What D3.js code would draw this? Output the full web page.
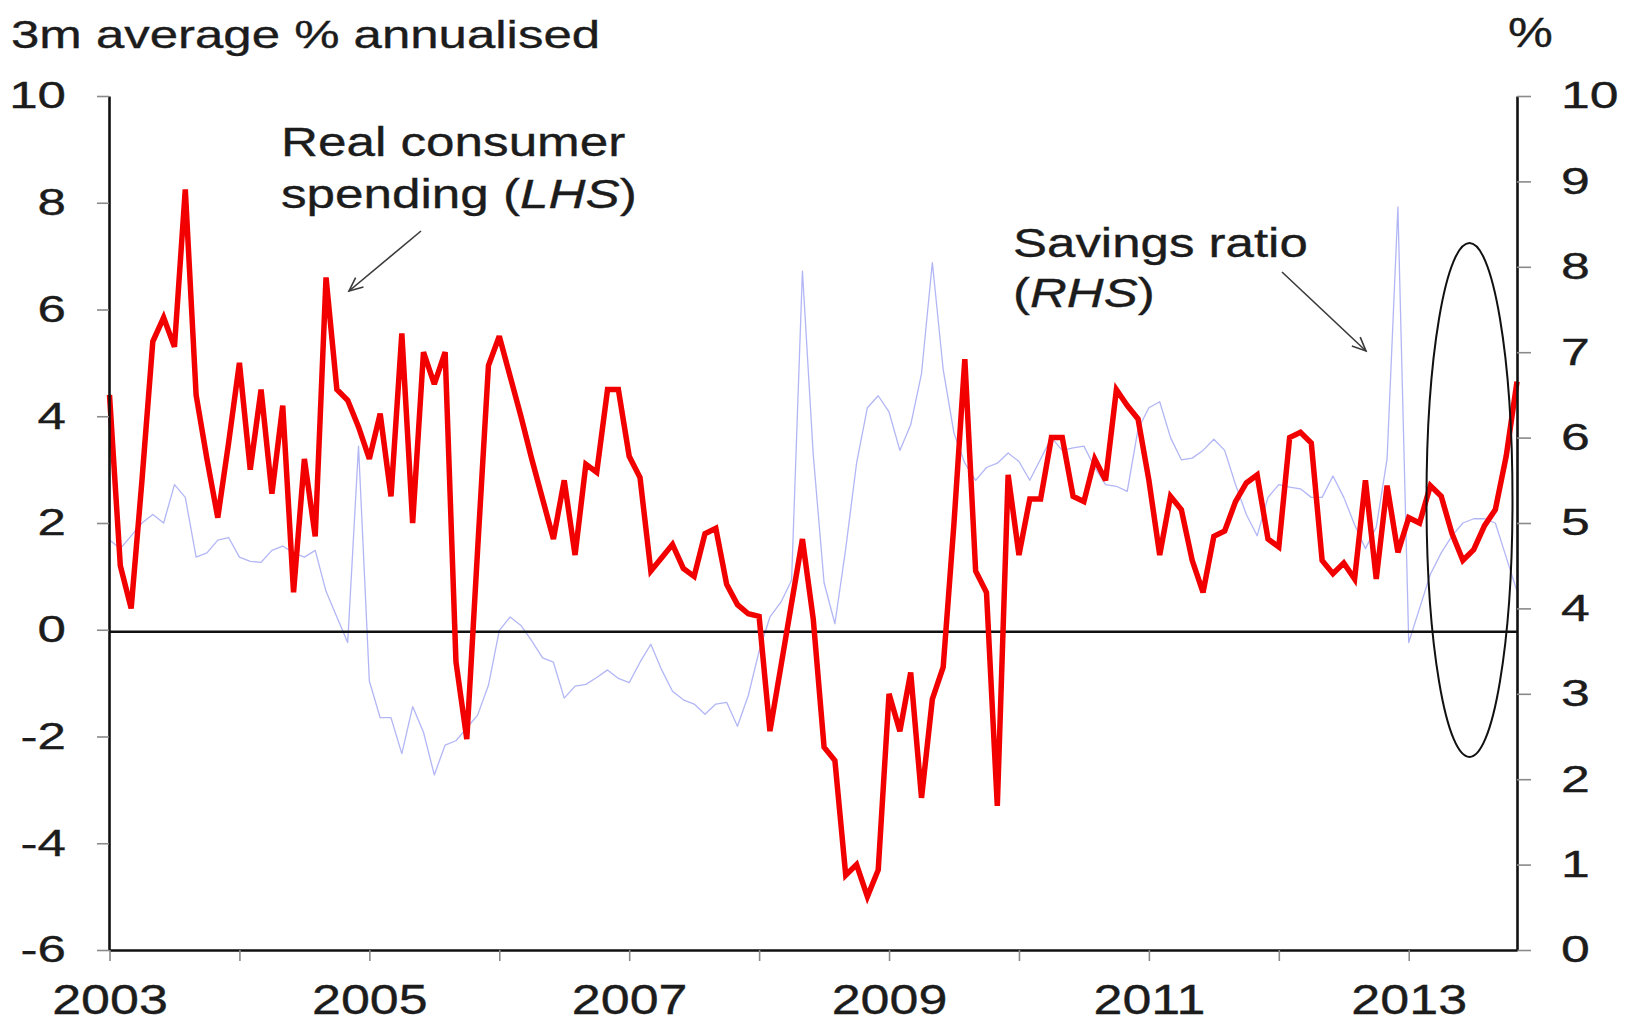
<!DOCTYPE html>
<html>
<head>
<meta charset="utf-8">
<script src="https://cdn.jsdelivr.net/npm/d3@7"></script>
<style>
  body { margin: 0; background: #ffffff; }
  svg text { font-family: "Liberation Sans", Arial, sans-serif; fill: #1c1c1c; stroke: #1c1c1c; stroke-width: 0.35; }
</style>
</head>
<body>
<svg id="chart" width="1629" height="1024"></svg>
<script>
// ---------------- data ----------------
const startYear = 2003;           // first observation: Jan 2003, monthly
// Real consumer spending, 3m average % annualised (LHS)
const spending = [
  4.4, 1.2, 0.4, 2.8, 5.4, 5.85, 5.3, 8.25, 4.4, 3.2, 2.1, 3.5,
  5.0, 3.0, 4.5, 2.55, 4.2, 0.7, 3.2, 1.75, 6.6, 4.5, 4.3, 3.8,
  3.2, 4.05, 2.5, 5.55, 2.0, 5.2, 4.6, 5.2, -0.6, -2.05, 1.5, 4.95,
  5.5, 4.75, 4.0, 3.2, 2.45, 1.7, 2.8, 1.4, 3.1, 2.95, 4.5, 4.5,
  3.25, 2.85, 1.1, 1.35, 1.6, 1.15, 1.0, 1.8, 1.9, 0.85, 0.47, 0.3,
  0.25, -1.9, -0.7, 0.5, 1.7, 0.2, -2.2, -2.45, -4.6, -4.4, -5.0, -4.5,
  -1.2, -1.9, -0.8, -3.15, -1.3, -0.7, 2.0, 5.07, 1.1, 0.7, -3.3, 2.9,
  1.4, 2.45, 2.45, 3.6, 3.6, 2.5, 2.4, 3.2, 2.8, 4.5, 4.2, 3.95,
  2.8, 1.4, 2.5, 2.25, 1.3, 0.7, 1.75, 1.85, 2.4, 2.75, 2.9, 1.7,
  1.55, 3.6, 3.7, 3.5, 1.3, 1.05, 1.25, 0.95, 2.8, 0.95, 2.7, 1.45,
  2.1, 2.0, 2.7, 2.5, 1.8, 1.3, 1.5, 1.95, 2.25, 3.25, 4.65
];
// Savings ratio, % (RHS)
const savings = [
  4.8, 4.7, 4.85, 5.0, 5.1, 5.0, 5.45, 5.3, 4.6, 4.65, 4.8, 4.83,
  4.6, 4.55, 4.54, 4.68, 4.73, 4.65, 4.6, 4.68, 4.2, 3.9, 3.6, 5.9,
  3.15, 2.72, 2.72, 2.3, 2.85, 2.55, 2.05, 2.4, 2.45, 2.6, 2.75, 3.1,
  3.74, 3.9, 3.8, 3.62, 3.42, 3.37, 2.95, 3.09, 3.11, 3.19, 3.28, 3.18,
  3.13, 3.37, 3.58, 3.28, 3.03, 2.93, 2.88, 2.76, 2.88, 2.9, 2.62, 2.98,
  3.5, 3.9, 4.07, 4.33, 7.95, 5.8, 4.3, 3.82, 4.7, 5.7, 6.35, 6.49,
  6.3, 5.85, 6.15, 6.75, 8.05, 6.8, 6.05, 5.7, 5.5, 5.65, 5.7, 5.82,
  5.72, 5.5, 5.75, 6.0, 5.85, 5.88, 5.9, 5.65, 5.45, 5.43, 5.37, 6.1,
  6.35, 6.42, 6.0, 5.74, 5.76, 5.85, 5.98, 5.85, 5.45, 5.1, 4.85, 5.3,
  5.45, 5.42, 5.4, 5.3, 5.3, 5.55, 5.3, 4.98, 4.7, 4.95, 5.75, 8.7,
  3.6, 4.0, 4.4, 4.65, 4.85, 5.0, 5.05, 5.05, 5.0, 4.6, 4.2
];
const yearTicks  = [2003, 2004, 2005, 2006, 2007, 2008, 2009, 2010, 2011, 2012, 2013];
const yearLabels = [2003, 2005, 2007, 2009, 2011, 2013];
const leftTicks  = [-6, -4, -2, 0, 2, 4, 6, 8, 10];
const rightTicks = [0, 1, 2, 3, 4, 5, 6, 7, 8, 9, 10];

(function () {
// ---------------- layout ----------------
const svg = d3.select("#chart");
const plotLeft = 109, plotRight = 1517, plotTop = 96, plotBottom = 950;
const lastX = startYear + (spending.length - 1) / 12;

const x  = d3.scaleLinear().domain([startYear, lastX]).range([109.5, plotRight]);
const yL = d3.scaleLinear().domain([-6, 10]).range([plotBottom, plotTop]);
const yR = d3.scaleLinear().domain([0, 10]).range([plotBottom, plotTop]);

function stretch(sel, sx, ox) {
  sel.attr("transform", `translate(${ox},0) scale(${sx},1) translate(${-ox},0)`);
}

// ---------------- series ----------------
const lineL = d3.line().x((d, i) => x(startYear + i / 12)).y(d => yL(d));
const lineR = d3.line().x((d, i) => x(startYear + i / 12)).y(d => yR(d));

svg.append("path")
  .datum(savings)
  .attr("d", lineR)
  .attr("fill", "none")
  .attr("stroke", "#7f86ee")
  .attr("stroke-opacity", 0.6)
  .attr("stroke-width", 1.3)
  .attr("stroke-linejoin", "round");

// zero line
svg.append("line")
  .attr("x1", plotLeft).attr("x2", plotRight)
  .attr("y1", yL(0) + 2).attr("y2", yL(0) + 2)
  .attr("stroke", "#111").attr("stroke-width", 2.4);

svg.append("path")
  .datum(spending)
  .attr("d", lineL)
  .attr("fill", "none")
  .attr("stroke", "#f20000")
  .attr("stroke-width", 5.5)
  .attr("stroke-linejoin", "miter")
  .attr("stroke-miterlimit", 3);

// ---------------- axes ----------------
const plain = d => String(d);
const axL = svg.append("g").attr("transform", `translate(${plotLeft},0)`)
  .call(d3.axisLeft(yL).tickValues(leftTicks).tickFormat(plain).tickSize(12).tickSizeOuter(0).tickPadding(31));
const axR = svg.append("g").attr("transform", `translate(${plotRight},0)`)
  .call(d3.axisRight(yR).tickValues(rightTicks).tickFormat(plain).tickSize(14).tickSizeOuter(0).tickPadding(30));
const axB = svg.append("g").attr("transform", `translate(0,${plotBottom})`)
  .call(d3.axisBottom(x).tickValues(yearTicks).tickSize(11).tickSizeOuter(0).tickPadding(22)
    .tickFormat(d => yearLabels.includes(d) ? String(d) : ""));

[axL, axR, axB].forEach(a => {
  a.select(".domain").attr("stroke", "#111").attr("stroke-width", 2.6);
  a.selectAll(".tick line").attr("stroke", "#8a8a8a").attr("stroke-width", 1.6);
  a.selectAll(".tick text").attr("fill", "#1c1c1c").attr("font-family", "Liberation Sans, Arial, sans-serif");
});
axL.selectAll(".tick text").attr("font-size", 37).each(function () {
  stretch(d3.select(this), 1.38, +d3.select(this).attr("x"));
});
axR.selectAll(".tick text").attr("font-size", 37).each(function () {
  stretch(d3.select(this), 1.4, +d3.select(this).attr("x"));
});
axB.selectAll(".tick text").attr("font-size", 43).each(function () {
  stretch(d3.select(this), 1.21, 0);
});

// ---------------- texts ----------------
function label(parts, x0, y0, size, sx) {
  const t = svg.append("text").attr("x", 0).attr("y", 0)
    .attr("font-size", size)
    .attr("transform", `translate(${x0},${y0}) scale(${sx},1)`);
  parts.forEach(p => {
    t.append("tspan").text(p.t).attr("font-style", p.i ? "italic" : "normal");
  });
  return t;
}
label([{t: "3m average % annualised"}], 11, 48, 39.5, 1.29);
label([{t: "%"}], 1508, 47, 42, 1.2);
label([{t: "Real consumer"}], 281, 156, 40, 1.28);
label([{t: "spending ("}, {t: "LHS", i: true}, {t: ")"}], 281, 208, 40, 1.28);
label([{t: "Savings ratio"}], 1013, 257, 40, 1.275);
label([{t: "("}, {t: "RHS", i: true}, {t: ")"}], 1013, 307, 40, 1.275);

// ---------------- arrows ----------------
function arrow(x1, y1, x2, y2) {
  svg.append("line").attr("x1", x1).attr("y1", y1).attr("x2", x2).attr("y2", y2)
    .attr("stroke", "#3a3a3a").attr("stroke-width", 1.6);
  const a = Math.atan2(y2 - y1, x2 - x1), L = 15, w = 0.42;
  const p = d3.path();
  p.moveTo(x2 - L * Math.cos(a - w), y2 - L * Math.sin(a - w));
  p.lineTo(x2, y2);
  p.lineTo(x2 - L * Math.cos(a + w), y2 - L * Math.sin(a + w));
  svg.append("path").attr("d", p.toString()).attr("fill", "none")
    .attr("stroke", "#3a3a3a").attr("stroke-width", 1.6);
}
arrow(421, 231, 349, 291);
arrow(1282, 272, 1366, 351);

// ---------------- ellipse highlight ----------------
svg.append("ellipse")
  .attr("cx", 1469.5).attr("cy", 500).attr("rx", 43).attr("ry", 257)
  .attr("fill", "none").attr("stroke", "#111").attr("stroke-width", 2);
})();
</script>
</body>
</html>
